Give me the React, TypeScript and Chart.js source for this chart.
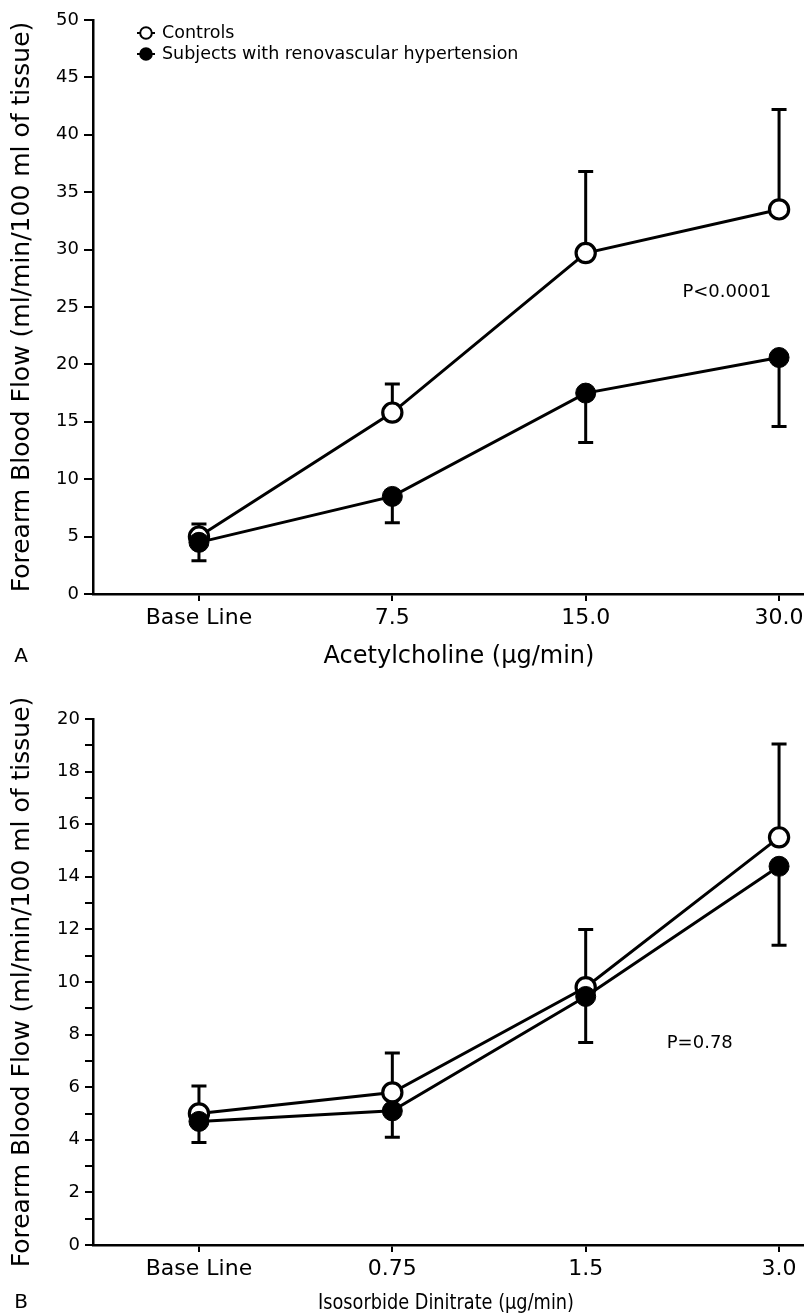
import React, { useEffect, useRef } from "react";
import { Chart, registerables } from "chart.js";

Chart.register(...registerables);

const FONT = "'DejaVu Sans', 'Liberation Sans', sans-serif";
const Y_TITLE = "Forearm Blood Flow (ml/min/100 ml of tissue)";
const LEGEND_LABELS = ["Controls", "Subjects with renovascular hypertension"];

// Panel A: Acetylcholine
const acCategories = ["Base Line", "7.5", "15.0", "30.0"];
const acControls = [5.0, 15.8, 29.7, 33.5];
const acControlsSE = [1.1, 2.5, 7.1, 8.7];
const acSubjects = [4.5, 8.5, 17.5, 20.6];
const acSubjectsSE = [1.6, 2.3, 4.3, 6.0];
const acYMax = 50;
const acYStep = 5;

// Panel B: Isosorbide dinitrate
const isdnCategories = ["Base Line", "0.75", "1.5", "3.0"];
const isdnControls = [5.0, 5.8, 9.8, 15.5];
const isdnControlsSE = [1.05, 1.5, 2.2, 3.55];
const isdnSubjects = [4.7, 5.1, 9.45, 14.4];
const isdnSubjectsSE = [0.8, 1.0, 1.75, 3.0];
const isdnYMax = 20;
const isdnYStep = 1;

const errorBarPlugin = {
  id: "errorBars",
  beforeDatasetsDraw(chart: any) {
    const { ctx, scales } = chart;
    const x = scales.x;
    const y = scales.y;
    ctx.save();
    ctx.strokeStyle = "#000";
    ctx.lineWidth = 3;
    chart.data.datasets.forEach((ds: any) => {
      ds.data.forEach((p: any, i: number) => {
        const px = x.getPixelForValue(p.x);
        const py0 = y.getPixelForValue(p.y);
        const py1 = y.getPixelForValue(p.y + ds.errDir * ds.errors[i]);
        ctx.beginPath();
        ctx.moveTo(px, py0);
        ctx.lineTo(px, py1);
        ctx.moveTo(px - 7.5, py1);
        ctx.lineTo(px + 7.5, py1);
        ctx.stroke();
      });
    });
    ctx.restore();
  },
};

const decorPlugin = {
  id: "decor",
  afterDraw(chart: any, _args: any, opts: any) {
    const { ctx, scales } = chart;
    ctx.save();
    ctx.fillStyle = "#000";
    // x-axis title (optionally compressed horizontally to a target width)
    ctx.font = opts.xTitleFont;
    ctx.textAlign = "center";
    ctx.textBaseline = "middle";
    const w = ctx.measureText(opts.xTitle).width;
    const sx = opts.xTitleWidth ? opts.xTitleWidth / w : 1;
    ctx.save();
    ctx.translate(opts.xTitleX, opts.xTitleY);
    ctx.scale(sx, 1);
    ctx.fillText(opts.xTitle, 0, 0);
    ctx.restore();
    // panel letter
    ctx.font = `20px ${FONT}`;
    ctx.fillText(opts.letter, 21, opts.xTitleY);
    // p value
    ctx.font = `18px ${FONT}`;
    ctx.fillText(
      opts.pText,
      scales.x.getPixelForValue(opts.pX),
      scales.y.getPixelForValue(opts.pY)
    );
    // legend
    if (opts.legend) {
      const rows = [
        { y: 33, fill: "#fff", text: LEGEND_LABELS[0] },
        { y: 54, fill: "#000", text: LEGEND_LABELS[1] },
      ];
      rows.forEach((r) => {
        ctx.strokeStyle = "#000";
        ctx.lineWidth = 2;
        ctx.beginPath();
        ctx.moveTo(137, r.y);
        ctx.lineTo(155, r.y);
        ctx.stroke();
        ctx.beginPath();
        ctx.arc(146, r.y, 5.8, 0, Math.PI * 2);
        ctx.fillStyle = r.fill;
        ctx.fill();
        ctx.lineWidth = 2;
        ctx.stroke();
        ctx.fillStyle = "#000";
        ctx.font = `17.5px ${FONT}`;
        ctx.textAlign = "left";
        ctx.fillText(r.text, 162, r.y);
      });
    }
    ctx.restore();
  },
};

type PanelProps = {
  width: number;
  height: number;
  top: number;
  padTop: number;
  xAxisHeight: number;
  categories: string[];
  controls: number[];
  controlsSE: number[];
  subjects: number[];
  subjectsSE: number[];
  yMax: number;
  yStep: number;
  labelEvery: number;
  yTickLen: number;
  decor: any;
};

function Panel(props: PanelProps) {
  const ref = useRef<HTMLCanvasElement>(null);
  useEffect(() => {
    const canvas = ref.current!;
    const chart = new Chart(canvas, {
      type: "line",
      data: {
        datasets: [
          {
            label: LEGEND_LABELS[1],
            data: props.subjects.map((v, i) => ({ x: i, y: v })),
            errors: props.subjectsSE,
            errDir: -1,
            order: 0,
            borderColor: "#000",
            borderWidth: 3,
            pointBackgroundColor: "#000",
            pointBorderColor: "#000",
            pointBorderWidth: 1,
            pointRadius: 10,
            pointHoverRadius: 10,
            tension: 0,
            fill: false,
            clip: false,
          } as any,
          {
            label: LEGEND_LABELS[0],
            data: props.controls.map((v, i) => ({ x: i, y: v })),
            errors: props.controlsSE,
            errDir: 1,
            order: 1,
            borderColor: "#000",
            borderWidth: 3,
            pointBackgroundColor: "#fff",
            pointBorderColor: "#000",
            pointBorderWidth: 3.2,
            pointRadius: 9.6,
            pointHoverRadius: 9.6,
            tension: 0,
            fill: false,
            clip: false,
          } as any,
        ],
      },
      options: {
        animation: false,
        responsive: false,
        events: [],
        layout: {
          autoPadding: false,
          padding: { top: props.padTop, left: 0, right: 0, bottom: 0 },
        },
        plugins: {
          legend: { display: false },
          tooltip: { enabled: false },
          decor: props.decor,
        } as any,
        scales: {
          x: {
            type: "linear",
            min: -0.548,
            max: 3.129,
            afterBuildTicks: (s: any) => {
              s.ticks = props.categories.map((_, i) => ({ value: i }));
            },
            afterFit: (s: any) => {
              s.height = props.xAxisHeight;
              s.paddingLeft = 0;
              s.paddingRight = 0;
            },
            ticks: {
              callback: (v: any) => props.categories[v] ?? "",
              font: { family: FONT, size: 22 },
              color: "#000",
              padding: 4,
              maxRotation: 0,
              autoSkip: false,
            },
            grid: {
              drawOnChartArea: false,
              drawTicks: true,
              tickLength: 7,
              color: "#000",
              lineWidth: 2,
            },
            border: { display: true, color: "#000", width: 2.5 },
          },
          y: {
            min: 0,
            max: props.yMax,
            afterFit: (s: any) => {
              s.width = 93;
            },
            ticks: {
              stepSize: props.yStep,
              autoSkip: false,
              callback: (v: any) =>
                Number(v) % props.labelEvery === 0 ? String(v) : "",
              font: { family: FONT, size: 18 },
              color: "#000",
              padding: 5,
            },
            grid: {
              drawOnChartArea: false,
              drawTicks: true,
              tickLength: props.yTickLen,
              color: "#000",
              lineWidth: 2,
            },
            border: { display: true, color: "#000", width: 2.5 },
            title: {
              display: true,
              text: Y_TITLE,
              font: { family: FONT, size: 25 },
              color: "#000",
              padding: { top: 7, bottom: 0 },
            },
          },
        },
      } as any,
      plugins: [errorBarPlugin, decorPlugin],
    });
    return () => chart.destroy();
  }, []);
  return (
    <canvas
      ref={ref}
      width={props.width}
      height={props.height}
      style={{
        position: "absolute",
        left: 0,
        top: props.top,
        width: props.width,
        height: props.height,
      }}
    />
  );
}

export default function App() {
  return (
    <div
      style={{
        position: "absolute",
        left: 0,
        top: 0,
        width: 804,
        height: 1316,
        background: "#fff",
      }}
    >
      <Panel
        width={804}
        height={675}
        top={0}
        padTop={20}
        xAxisHeight={81}
        categories={acCategories}
        controls={acControls}
        controlsSE={acControlsSE}
        subjects={acSubjects}
        subjectsSE={acSubjectsSE}
        yMax={acYMax}
        yStep={acYStep}
        labelEvery={5}
        yTickLen={9}
        decor={{
          xTitle: "Acetylcholine (μg/min)",
          xTitleFont: `24px ${FONT}`,
          xTitleX: 459,
          xTitleY: 657,
          letter: "A",
          pText: "P<0.0001",
          pX: 2.73,
          pY: 26.3,
          legend: true,
        }}
      />
      <Panel
        width={804}
        height={641}
        top={675}
        padTop={44}
        xAxisHeight={71}
        categories={isdnCategories}
        controls={isdnControls}
        controlsSE={isdnControlsSE}
        subjects={isdnSubjects}
        subjectsSE={isdnSubjectsSE}
        yMax={isdnYMax}
        yStep={isdnYStep}
        labelEvery={2}
        yTickLen={8}
        decor={{
          xTitle: "Isosorbide Dinitrate (μg/min)",
          xTitleFont: `22px ${FONT}`,
          xTitleWidth: 256,
          xTitleX: 446,
          xTitleY: 628,
          letter: "B",
          pText: "P=0.78",
          pX: 2.59,
          pY: 7.68,
          legend: false,
        }}
      />
    </div>
  );
}
